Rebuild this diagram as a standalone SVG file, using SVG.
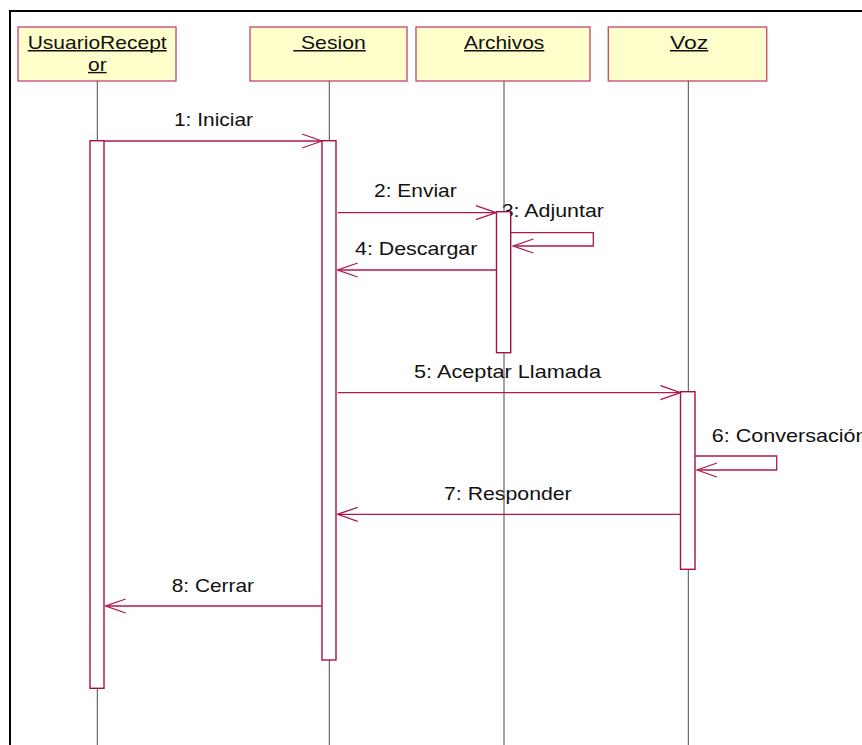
<svg xmlns="http://www.w3.org/2000/svg" width="862" height="745" viewBox="0 0 862 745">
  <style>
    .frame { stroke: #000; stroke-width: 2; fill: none; }
    .obj { fill: #FFFFCC; stroke: #C8507A; stroke-width: 1.4; }
    .name { font-family: "Liberation Sans", Arial, sans-serif; font-size: 18.6px; fill: #111; }
    .uline { stroke: #111; stroke-width: 1.4; }
    .life { stroke: #4a4a4a; stroke-width: 1; }
    .act { fill: #fff; stroke: #A8103F; stroke-width: 1.4; }
    .msg { fill: none; stroke: #B01848; stroke-width: 1.3; marker-end: url(#open); }
    .lbl { font-family: "Liberation Sans", Arial, sans-serif; font-size: 18.6px; fill: #111; }
  </style>
  <defs>
    <marker id="open" markerUnits="userSpaceOnUse" viewBox="-21 -8 22 16" markerWidth="22" markerHeight="16" refX="0" refY="0" orient="auto">
      <path d="M-20,-7 L0,0 L-20,7" fill="none" stroke="#B01848" stroke-width="1.3"/>
    </marker>
  </defs>
  <rect width="862" height="745" fill="#fff"/>

  <!-- diagram frame -->
  <path class="frame" d="M10,745 L10,11 L862,11"/>

  <!-- message labels -->
  <g id="labels">
    <text class="lbl" x="174" y="126" textLength="79" lengthAdjust="spacingAndGlyphs">1: Iniciar</text>
    <text class="lbl" x="374" y="196.5" textLength="82.7" lengthAdjust="spacingAndGlyphs">2: Enviar</text>
    <text class="lbl" x="501.7" y="216.7" textLength="102.3" lengthAdjust="spacingAndGlyphs">3: Adjuntar</text>
    <text class="lbl" x="355" y="255" textLength="122.3" lengthAdjust="spacingAndGlyphs">4: Descargar</text>
    <text class="lbl" x="414" y="377.7" textLength="187" lengthAdjust="spacingAndGlyphs">5: Aceptar Llamada</text>
    <text class="lbl" x="711.7" y="442.3" textLength="155.8" lengthAdjust="spacingAndGlyphs">6: Conversación</text>
    <text class="lbl" x="444" y="500" textLength="127.7" lengthAdjust="spacingAndGlyphs">7: Responder</text>
    <text class="lbl" x="171.7" y="592.3" textLength="82.3" lengthAdjust="spacingAndGlyphs">8: Cerrar</text>
  </g>

  <!-- objects with lifelines and activations -->
  <g id="usuarioReceptor">
    <rect class="obj" x="18" y="27" width="158" height="54"/>
    <text class="name" x="27.7" y="49.3" textLength="139" lengthAdjust="spacingAndGlyphs">UsuarioRecept</text>
    <line class="uline" x1="27.7" y1="50.8" x2="166.7" y2="50.8"/>
    <text class="name" x="88" y="71" textLength="18.7" lengthAdjust="spacingAndGlyphs">or</text>
    <line class="uline" x1="88" y1="72.6" x2="106.7" y2="72.6"/>
    <line class="life" x1="97.3" y1="81" x2="97.3" y2="745"/>
    <rect class="act" x="90" y="140.7" width="14" height="547.6"/>
  </g>

  <g id="sesion">
    <rect class="obj" x="250" y="27" width="157" height="54"/>
    <text class="name" x="301" y="49.3" textLength="64.7" lengthAdjust="spacingAndGlyphs">Sesion</text>
    <line class="uline" x1="293.3" y1="50.8" x2="365.7" y2="50.8"/>
    <line class="life" x1="329.3" y1="81" x2="329.3" y2="745"/>
    <rect class="act" x="322" y="140.7" width="14" height="519.3"/>
  </g>

  <g id="archivos">
    <rect class="obj" x="416" y="27" width="174" height="54"/>
    <text class="name" x="464" y="49.3" textLength="80.3" lengthAdjust="spacingAndGlyphs">Archivos</text>
    <line class="uline" x1="464" y1="50.8" x2="544.3" y2="50.8"/>
    <line class="life" x1="504" y1="81" x2="504" y2="745"/>
    <rect class="act" x="496.5" y="211.7" width="14.2" height="141"/>
  </g>

  <g id="voz">
    <rect class="obj" x="608.3" y="27" width="158.4" height="54"/>
    <text class="name" x="670" y="49.3" textLength="38.3" lengthAdjust="spacingAndGlyphs">Voz</text>
    <line class="uline" x1="670" y1="50.8" x2="708.3" y2="50.8"/>
    <line class="life" x1="688.3" y1="81" x2="688.3" y2="745"/>
    <rect class="act" x="680.5" y="391.7" width="14.5" height="177.6"/>
  </g>

  <!-- messages -->
  <g id="connectors">
    <path class="msg" d="M104,141 L322,141"/>
    <path class="msg" d="M337.7,212.7 L496,212.7"/>
    <path class="msg" d="M511,232.7 L593.3,232.7 L593.3,246 L513.3,246"/>
    <path class="msg" d="M496.5,270 L337.7,270"/>
    <path class="msg" d="M337.7,392.7 L680.5,392.7"/>
    <path class="msg" d="M695,456 L776.7,456 L776.7,470 L697,470"/>
    <path class="msg" d="M680.5,514.3 L337.7,514.3"/>
    <path class="msg" d="M322,606 L105.7,606"/>
  </g>
</svg>
